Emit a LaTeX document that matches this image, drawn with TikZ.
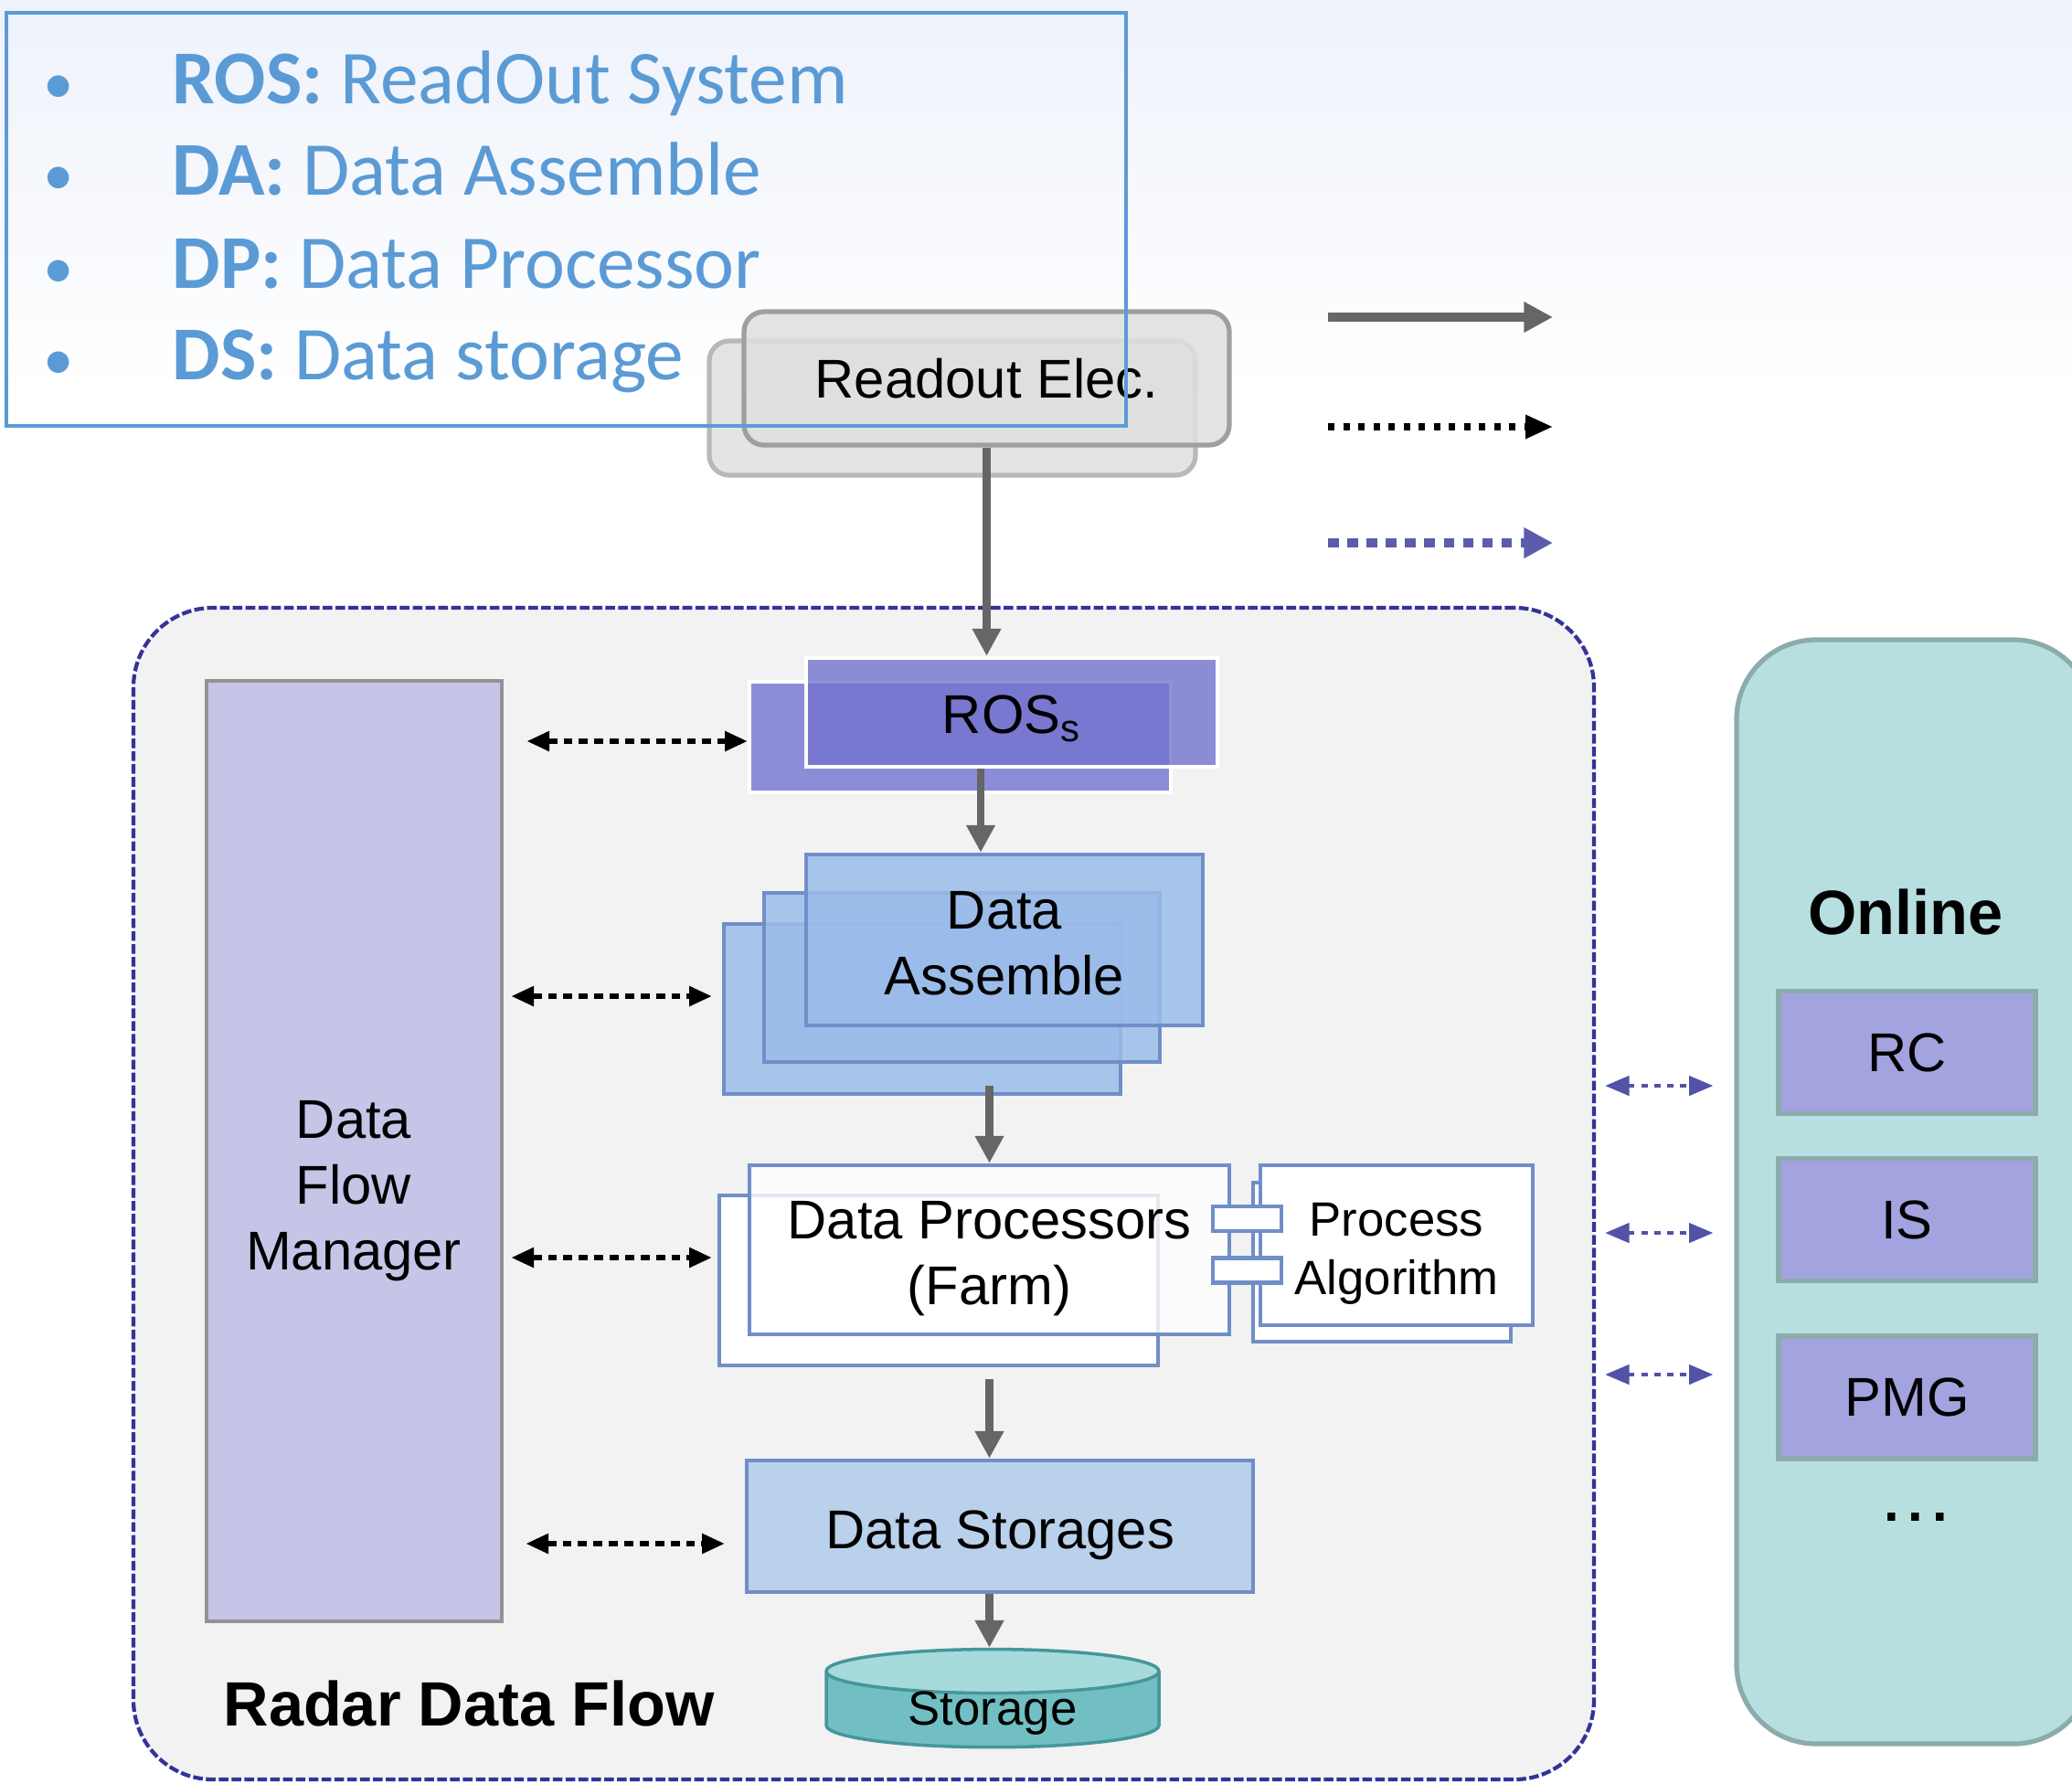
\documentclass[tikz,border=0pt]{standalone}
\usepackage{fontspec}
\setmainfont{Liberation Sans}
\newfontfamily\legendfont{Carlito}
\usepackage{tikz}
\usetikzlibrary{shapes,arrows,positioning,fit,calc,backgrounds,arrows.meta}
\usepackage{xcolor}
\definecolor{legblue}{RGB}{91,155,213}
\definecolor{topband}{RGB}{238,242,251}
\definecolor{rosfront}{RGB}{115,115,206}
\definecolor{rosback}{RGB}{140,140,216}
\definecolor{dafill}{RGB}{155,188,234}
\definecolor{daedge}{RGB}{112,142,200}
\definecolor{dsfill}{RGB}{185,209,234}
\definecolor{dfmfill}{RGB}{197,197,232}
\definecolor{panelgray}{RGB}{242,242,242}
\definecolor{panelblue}{RGB}{51,51,153}
\definecolor{onlinefill}{RGB}{184,223,224}
\definecolor{onlineedge}{RGB}{140,172,172}
\definecolor{ctrlfill}{RGB}{163,163,224}
\definecolor{flowgray}{RGB}{102,102,102}
\definecolor{storetop}{RGB}{166,218,219}
\definecolor{storebody}{RGB}{113,191,195}
\definecolor{storeedge}{RGB}{70,150,155}
\newcommand{\blockfont}{\fontsize{17}{20.5}\selectfont}
\newcommand{\smallblockfont}{\fontsize{15}{18}\selectfont}
\newcommand{\titlefont}{\bfseries\fontsize{19.5}{23}\selectfont}

\begin{document}
\begin{tikzpicture}[
    flow/.style={-{Triangle[length=8.5pt,width=8.5pt]}, line width=2.5pt, flowgray},
    ctrl/.style={{Triangle[length=7pt,width=6pt]}-{Triangle[length=7pt,width=6pt]}, line width=1.5pt, dash pattern=on 2.8pt off 2pt},
    ctrlblue/.style={{Triangle[length=7.5pt,width=6pt]}-{Triangle[length=7.5pt,width=6pt]}, line width=1.2pt, dash pattern=on 2pt off 2pt, panelblue!85},
    rdbox/.style={rectangle, rounded corners=0.22cm, draw=gray!75, line width=1.5pt, fill=gray!25, fill opacity=0.85, text opacity=1, font=\blockfont},
    rosbox/.style={rectangle, draw=white, line width=1.3pt, font=\blockfont},
    dabox/.style={rectangle, draw=daedge, line width=1.3pt, fill=dafill, fill opacity=0.85, text opacity=1, font=\blockfont, align=center},
    dpbox/.style={rectangle, draw=daedge, line width=1.3pt, fill=white, fill opacity=0.8, text opacity=1, font=\blockfont, align=center},
    tabbox/.style={rectangle, draw=daedge, line width=1.3pt, fill=white, minimum width=0.75cm, minimum height=0.27cm, inner sep=0pt},
    dsbox/.style={rectangle, draw=daedge, line width=1.3pt, fill=dsfill, font=\blockfont},
    dfmbox/.style={rectangle, draw=gray!85, line width=1.4pt, fill=dfmfill},
    panel/.style={rectangle, rounded corners=0.87cm, draw=panelblue, line width=1.2pt, dash pattern=on 3pt off 1pt, fill=panelgray},
    onlinebox/.style={rectangle, rounded corners=0.87cm, draw=onlineedge, line width=1.5pt, fill=onlinefill},
    ctrlbox/.style={rectangle, draw=onlineedge, line width=1.5pt, fill=ctrlfill, minimum width=2.81cm, minimum height=1.34cm, font=\blockfont},
    storage/.style={cylinder, shape border rotate=90, aspect=0.26, draw=storeedge, line width=1pt, cylinder uses custom fill, cylinder body fill=storebody, cylinder end fill=storetop, minimum width=3.64cm, minimum height=0.90cm, inner sep=0pt, text height=9.5pt, text depth=0pt, font=\smallblockfont},
    legitem/.style={anchor=base west, inner sep=0pt, text=legblue, font={\legendfont\fontsize{23.7}{28}\selectfont}},
    legbullet/.style={anchor=base, inner sep=0pt, text=legblue, font={\legendfont\fontsize{19}{23}\selectfont}}
]
    \useasboundingbox (0,0) rectangle (22.67,-19.51);
    \clip (0,0) rectangle (22.67,-19.51);
    \shade[top color=topband, bottom color=white] (0,0) rectangle (22.67,-4.3);

    % radar data flow panel and online panel
    \node[panel, minimum width=15.98cm, minimum height=12.82cm] (rdf) at (9.45,-13.06) {};
    \node[font=\titlefont] (rdftitle) at (5.13,-18.64) {Radar Data Flow};
    \node[onlinebox, minimum width=3.90cm, minimum height=12.08cm] (online) at (20.95,-13.04) {};
    \node[font=\titlefont] (onlinetitle) at (20.85,-9.98) {Online};
    \node[ctrlbox] (rc) at (20.865,-11.515) {RC};
    \node[ctrlbox] (is) at (20.865,-13.345) {IS};
    \node[ctrlbox] (pmg) at (20.865,-15.29) {PMG};
    \node[font=\blockfont\bfseries] (more) at (20.96,-16.60) {.\,.\,.};

    \node[dfmbox, minimum width=3.23cm, minimum height=10.29cm] (dfm) at (3.875,-12.595) {};
    \node[font=\blockfont, align=center] (dfmtext) at (3.87,-13.03) {Data\\Flow\\Manager};

    % readout electronics
    \node[rdbox, draw=gray!55, minimum width=5.32cm, minimum height=1.47cm] (rdb) at (10.42,-4.465) {};
    \node[rdbox, minimum width=5.31cm, minimum height=1.46cm] (rd) at (10.795,-4.14) {Readout Elec.};

    % ROS
    \node[rosbox, fill=rosback, minimum width=4.61cm, minimum height=1.21cm] (rosb) at (10.505,-8.065) {};
    \node[rosbox, fill=rosfront, fill opacity=0.8, text opacity=1, minimum width=4.50cm, minimum height=1.19cm] (ros) at (11.07,-7.795) {\rule{0pt}{15.6pt}ROS\textsubscript{s}};

    % data assemble
    \node[dabox, minimum width=4.34cm, minimum height=1.86cm] (dab) at (10.09,-11.04) {};
    \node[dabox, minimum width=4.33cm, minimum height=1.85cm] (dam) at (10.525,-10.695) {};
    \node[dabox, minimum width=4.34cm, minimum height=1.87cm] (da) at (10.99,-10.285) {\rule{0pt}{14pt}Data\\Assemble};

    % data processors and algorithm
    \node[dpbox, fill opacity=1, minimum width=4.80cm, minimum height=1.86cm] (dpb) at (10.27,-14.01) {};
    \node[dpbox, minimum width=5.25cm, minimum height=1.85cm] (dp) at (10.825,-13.675) {\rule{0pt}{17.3pt}Data Processors\\(Farm)};
    \node[dpbox, fill opacity=1, minimum width=2.82cm, minimum height=1.74cm] (pab) at (15.12,-13.81) {};
    \node[dpbox, fill opacity=1, font=\smallblockfont, minimum width=2.98cm, minimum height=1.75cm] (pa) at (15.28,-13.625) {\rule{0pt}{15.6pt}Process\\Algorithm};
    \node[tabbox] (tab1) at (13.645,-13.335) {};
    \node[tabbox] (tab2) at (13.645,-13.90) {};

    % storages
    \node[dsbox, minimum width=5.54cm, minimum height=1.44cm] (ds) at (10.94,-16.70) {\rule{0pt}{17.2pt}Data Storages};
    \node[storage] (st) at (10.86,-18.71) {Storage};

    % data flow
    \draw[flow] (rd.south) -- (rd.south |- ros.north);
    \draw[flow] ([xshift=-0.34cm]ros.south) -- ([xshift=-0.34cm]ros.south |- da.north);
    \draw[flow] ([yshift=0.11cm]dab.south -| dp.north) -- (dp.north);
    \draw[flow] ([yshift=-0.13cm]dpb.south -| dp.north) -- (dp.north |- ds.north);
    \draw[flow] (dp.north |- ds.south) -- (dp.north |- st.north);

    % control links
    \coordinate (row1) at (0,-8.11);
    \coordinate (row2) at (0,-10.90);
    \coordinate (row3) at (0,-13.76);
    \coordinate (row4) at (0,-16.89);
    \draw[ctrl] ([xshift=0.25cm]dfm.east |- row1) -- (rosb.west |- row1);
    \draw[ctrl] ([xshift=0.08cm]dfm.east |- row2) -- ([xshift=-0.11cm]dab.west |- row2);
    \draw[ctrl] ([xshift=0.08cm]dfm.east |- row3) -- ([xshift=-0.06cm]dpb.west |- row3);
    \draw[ctrl] ([xshift=0.24cm]dfm.east |- row4) -- ([xshift=-0.22cm]ds.west |- row4);

    \foreach \y in {11.88,13.49,15.04}
        \draw[ctrlblue] ([xshift=0.10cm]rdf.east |- 0,-\y) -- ([xshift=-0.23cm]online.west |- 0,-\y);

    % legend
    \node[draw=legblue, line width=1.2pt, minimum width=12.25cm, minimum height=4.52cm] (legend) at (6.195,-2.40) {};
    \foreach \y/\ab/\fullname [count=\i] in {1.13/ROS/ReadOut System, 2.13/DA/Data Assemble, 3.15/DP/Data Processor, 4.15/DS/Data storage}{
        \node[legbullet] (bul\i) at (0.645,-\y) {\textbullet};
        \node[legitem] (leg\i) at (1.88,-\y) {\textbf{\ab:} \fullname};
    }

    \coordinate (lk1s) at (14.53,-3.47);
    \coordinate (lk1e) at (16.99,-3.47);
    \coordinate (lk2s) at (14.53,-4.67);
    \coordinate (lk2e) at (16.99,-4.67);
    \coordinate (lk3s) at (14.53,-5.94);
    \coordinate (lk3e) at (16.99,-5.94);
    \draw[flow, line width=2.8pt, -{Triangle[length=9pt,width=9pt]}] (lk1s) -- (lk1e);
    \draw[line width=2pt, dash pattern=on 2pt off 2.7pt, -{Triangle[length=8.5pt,width=7pt]}] (lk2s) -- (lk2e);
    \draw[line width=2.6pt, panelblue!80, dash pattern=on 3.3pt off 2.7pt, -{Triangle[length=9pt,width=9pt]}] (lk3s) -- (lk3e);
\end{tikzpicture}
\end{document}
